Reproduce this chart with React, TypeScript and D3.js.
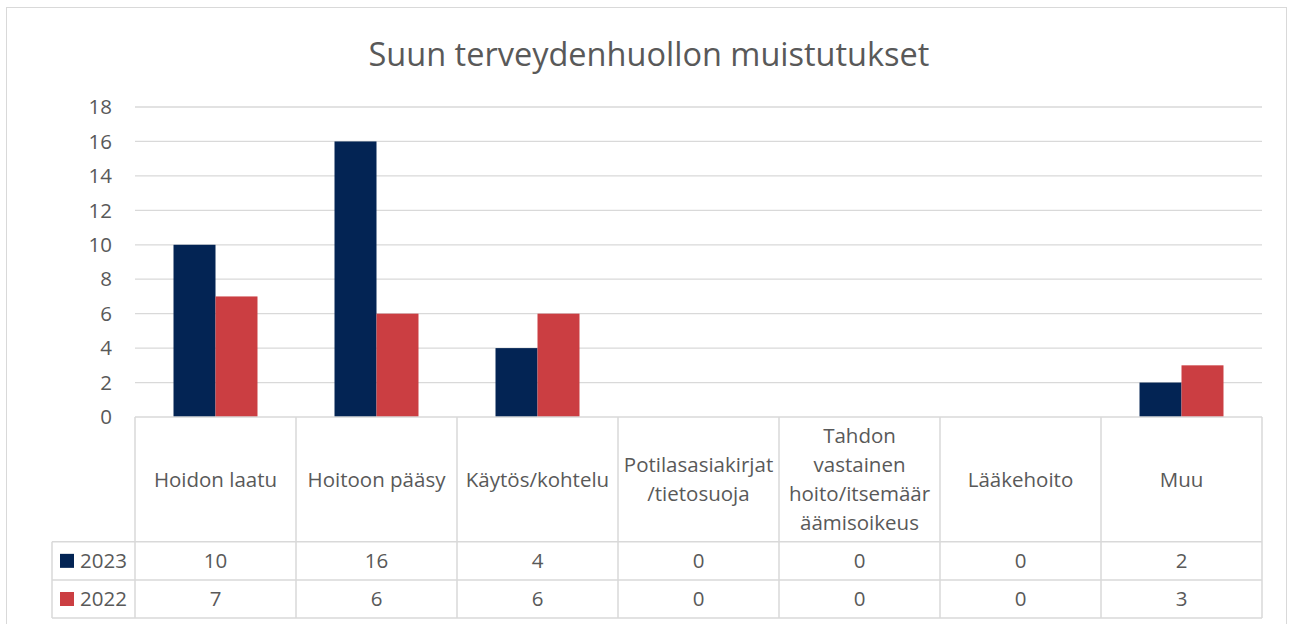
import React from "react";
import * as d3 from "d3";

const title = "Suun terveydenhuollon muistutukset";
const categories = [
  "Hoidon laatu",
  "Hoitoon pääsy",
  "Käytös/kohtelu",
  "Potilasasiakirjat\n/tietosuoja",
  "Tahdon\nvastainen\nhoito/itsemäär\näämisoikeus",
  "Lääkehoito",
  "Muu",
];
const seriesNames = ["2023", "2022"];
const values2023 = [10, 16, 4, 0, 0, 0, 2];
const values2022 = [7, 6, 6, 0, 0, 0, 3];
const yTicks = [0, 2, 4, 6, 8, 10, 12, 14, 16, 18];
const colors = ["#032454", "#CB3E42"];

const W = 1292;
const H = 624;
const FONT = "'Open Sans', 'Noto Sans', sans-serif";
const TXT = "#595959";
const GRID = "#D9D9D9";

export default function App() {
  const plotLeft = 135;
  const plotRight = 1262;
  const yTop = 107;
  const yBottom = 417;
  const headerBottom = 541.7;
  const row1Bottom = 580;
  const row2Bottom = 618;
  const legendLeft = 52;
  const fs = 20.5;

  const x = d3.scaleBand<string>().domain(categories).range([plotLeft, plotRight]).padding(0);
  const bw = x.bandwidth();
  const inner = d3
    .scaleBand<string>()
    .domain(seriesNames)
    .range([0, bw])
    .paddingInner(0)
    .paddingOuter(0.917);
  const y = d3.scaleLinear().domain([0, 18]).range([yBottom, yTop]);
  const series = [values2023, values2022];

  const rows = [
    { top: headerBottom, bottom: row1Bottom },
    { top: row1Bottom, bottom: row2Bottom },
  ];
  const headerMid = (yBottom + headerBottom) / 2;
  const lineH = 29;

  return (
    <svg
      width={W}
      height={H}
      style={{ position: "absolute", left: 0, top: 0, background: "#fff" }}
      fontFamily={FONT}
    >
      <rect x={6.5} y={7.5} width={1280} height={640} fill="#fff" stroke={GRID} strokeWidth={1} />
      <text x={649} y={66} textAnchor="middle" fontSize={32.5} fill={TXT}>
        {title}
      </text>
      {yTicks.map((t) => (
        <g key={t}>
          {t > 0 && (
            <line x1={plotLeft} x2={plotRight} y1={y(t)} y2={y(t)} stroke={GRID} strokeWidth={1.3} />
          )}
          <text x={112} y={y(t)} dy="0.35em" textAnchor="end" fontSize={fs} fill={TXT}>
            {t}
          </text>
        </g>
      ))}
      {categories.map((c, i) =>
        series.map((vals, s) => {
          const v = vals[i];
          if (v <= 0) return null;
          return (
            <rect
              key={c + s}
              x={(x(c) as number) + (inner(seriesNames[s]) as number)}
              y={y(v)}
              width={inner.bandwidth()}
              height={y(0) - y(v)}
              fill={colors[s]}
            />
          );
        })
      )}
      {/* table grid */}
      <g stroke={GRID} strokeWidth={1.5} fill="none">
        <line x1={plotLeft} x2={plotRight} y1={yBottom} y2={yBottom} />
        <line x1={legendLeft} x2={plotRight} y1={headerBottom} y2={headerBottom} />
        <line x1={legendLeft} x2={plotRight} y1={row1Bottom} y2={row1Bottom} />
        <line x1={legendLeft} x2={plotRight} y1={row2Bottom} y2={row2Bottom} />
        <line x1={legendLeft} x2={legendLeft} y1={headerBottom} y2={row2Bottom} />
        {categories.map((c) => (
          <line key={c} x1={x(c) as number} x2={x(c) as number} y1={yBottom} y2={row2Bottom} />
        ))}
        <line x1={plotRight} x2={plotRight} y1={yBottom} y2={row2Bottom} />
      </g>
      {categories.map((c) => {
        const lines = c.split("\n");
        const cx = (x(c) as number) + bw / 2;
        const start = headerMid - ((lines.length - 1) * lineH) / 2;
        return (
          <text key={c} x={cx} textAnchor="middle" fontSize={fs} fill={TXT}>
            {lines.map((l, k) => (
              <tspan key={k} x={cx} y={start + k * lineH} dy="0.35em">
                {l}
              </tspan>
            ))}
          </text>
        );
      })}
      {rows.map((r, s) => {
        const mid = (r.top + r.bottom) / 2;
        return (
          <g key={s}>
            <rect x={60} y={mid - 7} width={14} height={14} fill={colors[s]} />
            <text x={80} y={mid} dy="0.35em" fontSize={fs} fill={TXT}>
              {seriesNames[s]}
            </text>
            {categories.map((c, i) => (
              <text
                key={c}
                x={(x(c) as number) + bw / 2}
                y={mid}
                dy="0.35em"
                textAnchor="middle"
                fontSize={fs}
                fill={TXT}
              >
                {series[s][i]}
              </text>
            ))}
          </g>
        );
      })}
    </svg>
  );
}
